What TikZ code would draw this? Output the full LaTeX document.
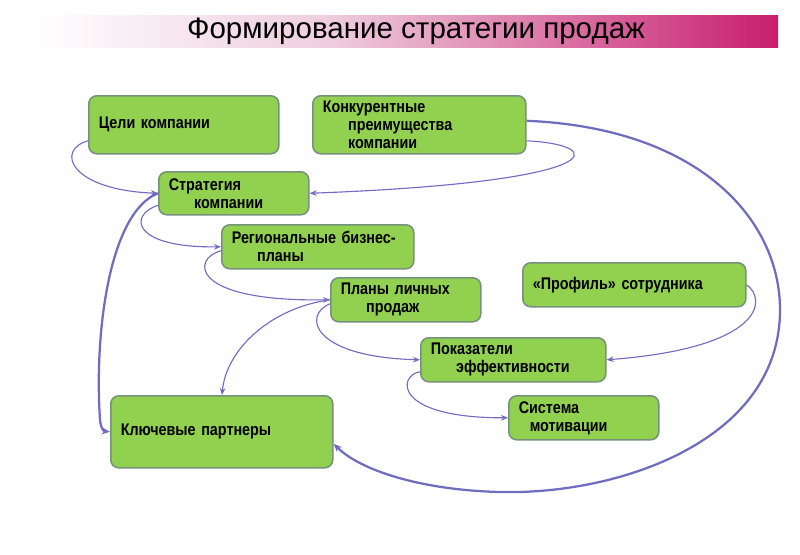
\documentclass[tikz,border=0pt]{standalone}
\usepackage{fontspec}
\setmainfont{Liberation Sans}
\newfontfamily\boxfont{Liberation Sans}[FakeStretch=0.85, WordSpace=0.6]
\usetikzlibrary{arrows.meta}
\definecolor{boxgreen}{RGB}{146,208,80}
\definecolor{boxline}{RGB}{116,146,124}
\definecolor{linkblue}{RGB}{112,108,192}
\definecolor{titlepink}{RGB}{200,30,110}
\definecolor{titlelight}{RGB}{238,205,222}

\tikzset{
  blk/.style 2 args={draw=boxline, fill=boxgreen, line width=1.1pt, rounded corners=0.2cm,
    anchor=north west, align=left, inner xsep=0.25cm, inner ysep=0pt,
    text width=#1, minimum height=#2, font=\boxfont\bfseries\fontsize{12}{12.8}\selectfont},
  lnk/.style={draw=linkblue, line width=0.8pt, -{Stealth[length=5pt,width=4pt]}},
  lnkbold/.style={lnk, line width=1.6pt, -{Stealth[length=6pt,width=5pt]}}
}

\begin{document}
\begin{tikzpicture}[x=0.025cm, y=-0.025cm]
        \useasboundingbox (0,0) rectangle (800,554);

        \shade[left color=white, right color=titlelight] (30,15) rectangle (330,47);
        \shade[left color=titlelight, right color=titlepink] (330,15) rectangle (778,47);
        \node (title) at (416,31) {\fontsize{21}{24}\selectfont Формирование стратегии продаж};

        \node[blk={4.25cm}{1.45cm}] (goals) at (88,95) {Цели компании};
        \node[blk={4.825cm}{1.45cm}] (adv) at (312,95) {Конкурентные\\\hspace*{1.5em}преимущества\\\hspace*{1.5em}компании};
        \node[blk={3.25cm}{1.075cm}] (strat) at (158,171) {Стратегия\\\hspace*{1.5em}компании};
        \node[blk={4.3cm}{1.1cm}] (region) at (221,224) {Региональные бизнес-\\\hspace*{1.5em}планы};
        \node[blk={3.25cm}{1.1cm}] (plans) at (330,277) {Планы личных\\\hspace*{1.5em}продаж};
        \node[blk={5.075cm}{1.1cm}] (profile) at (522,262) {«Профиль» сотрудника};
        \node[blk={4.125cm}{1.1cm}] (kpi) at (420,337) {Показатели\\\hspace*{1.5em}эффективности};
        \node[blk={3.25cm}{1.1cm}] (motiv) at (508,395) {Система\\\hspace*{0.65em}мотивации};
        \node[blk={5.05cm}{1.8cm}] (partners) at (110,395) {Ключевые партнеры};

        \draw[lnk] ([yshift=-0.4cm]goals.west) .. controls (55,150) and (70,190) .. (strat.west);
        \draw[lnk] ([yshift=-0.4cm]adv.east) .. controls (610,145) and (610,182) .. (strat.east);
        \draw[lnkbold] ([yshift=0.1cm]adv.east) .. controls (700,128) and (780,220) .. (780,310)
            .. controls (780,440) and (620,495) .. (500,492) .. controls (420,490) and (360,470) .. ([yshift=-0.3cm]partners.east);
        \draw[lnkbold] (strat.west) .. controls (110,212) and (94,330) .. (100,420)
            .. controls (101,428) and (103,431) .. (partners.west);
        \draw[lnk] ([yshift=-0.3cm]strat.west) .. controls (128,215) and (132,248) .. (region.west);
        \draw[lnk] ([yshift=-0.1cm]region.west) .. controls (192,258) and (188,302) .. (plans.west);
        \draw[lnk] (plans.west) .. controls (270,308) and (226,350) .. (222,395);
        \draw[lnk] ([yshift=-0.1cm]plans.west) .. controls (302,315) and (312,357) .. (kpi.west);
        \draw[lnk] (profile.east) .. controls (768,300) and (762,348) .. (kpi.east);
        \draw[lnk] ([yshift=-0.3cm]kpi.west) .. controls (398,375) and (392,418) .. (motiv.west);
    \end{tikzpicture}
\end{document}
